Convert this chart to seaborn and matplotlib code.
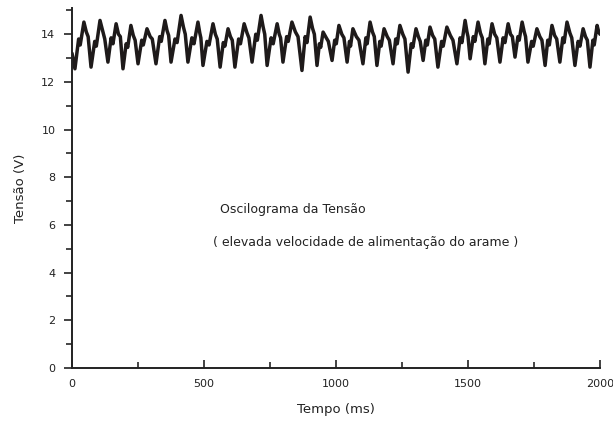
import matplotlib
matplotlib.use("Agg")
import matplotlib.pyplot as plt
import seaborn as sns
from matplotlib.ticker import MultipleLocator

# voltage trace (time in ms, voltage in V)
tempo = [
    0, 11, 25, 31, 45, 54, 61,
    72, 86, 92, 106, 116, 124,
    136, 148, 155, 167, 176, 183,
    193, 205, 211, 223, 232, 239,
    250, 264, 270, 284, 296, 304,
    318, 332, 338, 352, 360, 366,
    375, 390, 398, 413, 422, 429,
    439, 454, 462, 477, 484, 488,
    496, 511, 519, 534, 543, 550,
    561, 573, 579, 591, 600, 607,
    617, 631, 638, 652, 663, 670,
    682, 696, 702, 716, 724, 730,
    739, 754, 762, 777, 785, 790,
    799, 813, 819, 833, 846, 856,
    871, 883, 890, 902, 911, 918,
    928, 937, 942, 951, 963, 971,
    985, 995, 1001, 1011, 1022, 1030,
    1042, 1051, 1055, 1064, 1077, 1087,
    1102, 1113, 1118, 1129, 1138, 1145,
    1155, 1166, 1171, 1182, 1194, 1202,
    1216, 1226, 1232, 1242, 1253, 1261,
    1273, 1285, 1291, 1303, 1312, 1319,
    1330, 1340, 1346, 1356, 1366, 1374,
    1386, 1400, 1406, 1420, 1433, 1443,
    1458, 1470, 1477, 1489, 1496, 1500,
    1508, 1520, 1526, 1538, 1547, 1554,
    1564, 1575, 1580, 1591, 1601, 1609,
    1621, 1633, 1640, 1652, 1661, 1668,
    1678, 1689, 1694, 1705, 1713, 1718,
    1727, 1741, 1747, 1761, 1772, 1780,
    1792, 1802, 1808, 1818, 1828, 1836,
    1848, 1859, 1864, 1875, 1886, 1893,
    1905, 1917, 1924, 1936, 1945, 1952,
    1962, 1973, 1978, 1989, 1995, 2000,
]
tensao = [
    13.20, 12.55, 13.80, 13.55, 14.51, 14.10, 13.90,
    12.62, 13.70, 13.50, 14.58, 14.15, 13.80,
    12.83, 13.85, 13.60, 14.44, 14.00, 13.90,
    12.55, 13.60, 13.45, 14.37, 13.95, 13.75,
    12.76, 13.75, 13.55, 14.23, 13.90, 13.80,
    12.76, 13.90, 13.70, 14.58, 14.15, 13.95,
    12.83, 13.80, 13.65, 14.79, 14.30, 14.00,
    12.83, 13.85, 13.60, 14.51, 14.05, 13.85,
    12.69, 13.70, 13.55, 14.44, 14.00, 13.80,
    12.62, 13.65, 13.50, 14.23, 13.90, 13.75,
    12.62, 13.80, 13.60, 14.44, 14.05, 13.85,
    12.83, 14.00, 13.75, 14.79, 14.30, 14.00,
    12.69, 13.85, 13.60, 14.44, 14.00, 13.85,
    12.83, 13.90, 13.70, 14.51, 14.10, 13.90,
    12.48, 13.90, 13.65, 14.72, 14.25, 14.00,
    12.69, 13.60, 13.45, 14.09, 13.85, 13.70,
    12.90, 13.75, 13.60, 14.37, 14.00, 13.85,
    12.83, 13.70, 13.50, 14.23, 13.90, 13.75,
    12.76, 13.85, 13.60, 14.51, 14.10, 13.90,
    12.69, 13.70, 13.50, 14.23, 13.90, 13.75,
    12.76, 13.80, 13.60, 14.37, 14.00, 13.80,
    12.41, 13.60, 13.45, 14.23, 13.90, 13.70,
    12.90, 13.75, 13.55, 14.30, 13.95, 13.80,
    12.62, 13.70, 13.50, 14.30, 13.95, 13.75,
    12.76, 13.85, 13.65, 14.58, 14.10, 13.90,
    12.97, 13.90, 13.70, 14.51, 14.05, 13.85,
    12.76, 13.80, 13.60, 14.44, 14.00, 13.85,
    12.83, 13.85, 13.65, 14.44, 14.00, 13.90,
    13.04, 13.90, 13.75, 14.51, 14.10, 13.90,
    12.83, 13.70, 13.50, 14.23, 13.90, 13.75,
    12.69, 13.75, 13.55, 14.37, 13.95, 13.80,
    12.83, 13.85, 13.65, 14.51, 14.05, 13.85,
    12.69, 13.70, 13.50, 14.23, 13.90, 13.75,
    12.62, 13.75, 13.55, 14.37, 14.10, 14.00,
]

sns.set_style("ticks")
plt.rcParams['font.family'] = ['DejaVu Sans']

fig = plt.figure(figsize=(6.13, 4.22), dpi=100)
ax = fig.add_axes([0.1175, 0.128, 0.8613, 0.853])

sns.lineplot(x=tempo, y=tensao, color='#1e1a1a', linewidth=2.5, ax=ax)

ax.set_xlim(0, 2000)
ax.set_ylim(0, 15.1)
ax.xaxis.set_major_locator(MultipleLocator(500))
ax.xaxis.set_minor_locator(MultipleLocator(250))
ax.yaxis.set_major_locator(MultipleLocator(2))
ax.yaxis.set_minor_locator(MultipleLocator(1))

ax.tick_params(axis='x', which='major', direction='in', length=6, width=1.2,
               labelsize=8, pad=8, colors='#222222')
ax.tick_params(axis='x', which='minor', direction='in', length=4, width=1.2)
ax.tick_params(axis='y', which='major', direction='out', length=6, width=1.2,
               labelsize=8, pad=6, colors='#222222')
ax.tick_params(axis='y', which='minor', direction='out', length=4, width=1.2)

sns.despine(ax=ax)
for s in ['left', 'bottom']:
    ax.spines[s].set_linewidth(1.4)
    ax.spines[s].set_color('#222222')

ax.set_xlabel('Tempo (ms)', fontsize=9.5, labelpad=10, color='#222222')
ax.set_ylabel('Tensão (V)', fontsize=9.5, labelpad=10, color='#222222')

ax.text(561, 6.65, 'Oscilograma da Tensão', fontsize=9, ha='left',
        va='center', color='#222222')
ax.text(534, 5.26, '( elevada velocidade de alimentação do arame )',
        fontsize=9, ha='left', va='center', color='#222222')

plt.savefig('out.png', dpi=100)
